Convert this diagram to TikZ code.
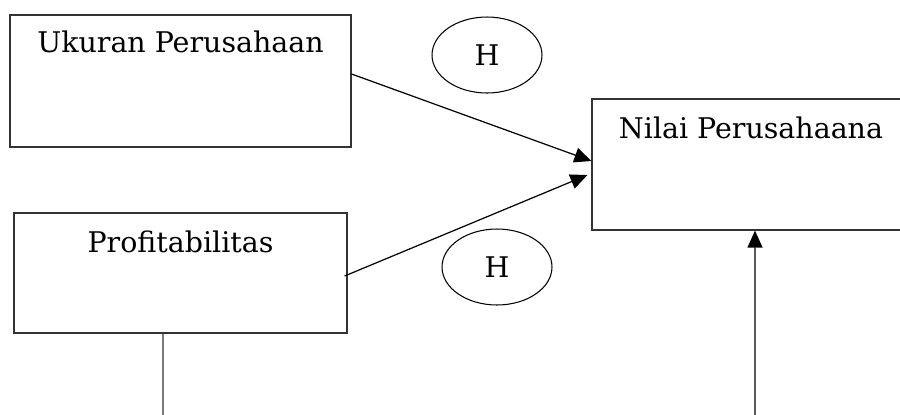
\documentclass[tikz,border=0pt]{standalone}
\usepackage{fontspec}
\setmainfont{DejaVu Serif}
\usetikzlibrary{arrows.meta,shapes.geometric}

\begin{document}
\begin{tikzpicture}[x=0.02cm, y=-0.02cm,
        varbox/.style={draw=black!80, line width=0.7pt, minimum width=#1, inner sep=0pt},
        hyp/.style={draw, ellipse, line width=0.6pt, minimum width=2.2cm, minimum height=1.52cm, inner sep=0pt},
        arr/.style={line width=0.7pt, -{Triangle[length=0.34cm, width=0.3cm]}},
        txt/.style={font=\fontsize{16.2}{19}\selectfont}]
        \useasboundingbox (0,0) rectangle (900,414);
        \clip (0,0) rectangle (900,414);

        % variabel
        \node[varbox=6.82cm, minimum height=2.64cm] (ukuran) at (180.5,81) {};
        \node[varbox=6.66cm, minimum height=2.4cm] (profit) at (180.5,273) {};
        \node[varbox=6.36cm, minimum height=2.62cm] (nilai) at (751,164.5) {};

        \node[txt, anchor=north] (tukuran) at ([yshift=-0.2cm]ukuran.north) {Ukuran Perusahaan};
        \node[txt, anchor=north] (tprofit) at ([yshift=-0.24cm]profit.north) {Profitabilitas};
        \node[txt, anchor=north] (tnilai) at ([yshift=-0.24cm]nilai.north) {Nilai Perusahaana};

        % hipotesis
        \node[hyp, txt] (h1) at (487,55) {H};
        \node[hyp, txt] (h2) at (497,267) {H};

        \coordinate (bawah1) at (163,420);
        \coordinate (bawah2) at (755,420);

        \draw[arr] ([yshift=0.14cm]ukuran.east) -- ([yshift=0.07cm]nilai.west);
        \draw[arr] ([xshift=-0.06cm, yshift=-0.06cm]profit.east) -- ([xshift=-0.08cm, yshift=-0.21cm]nilai.west);
        \draw[line width=0.7pt, black!80] ([xshift=-0.35cm]profit.south) -- (bawah1);
        \draw[arr] (bawah2) -- ([xshift=0.08cm]nilai.south);
    \end{tikzpicture}
\end{document}
